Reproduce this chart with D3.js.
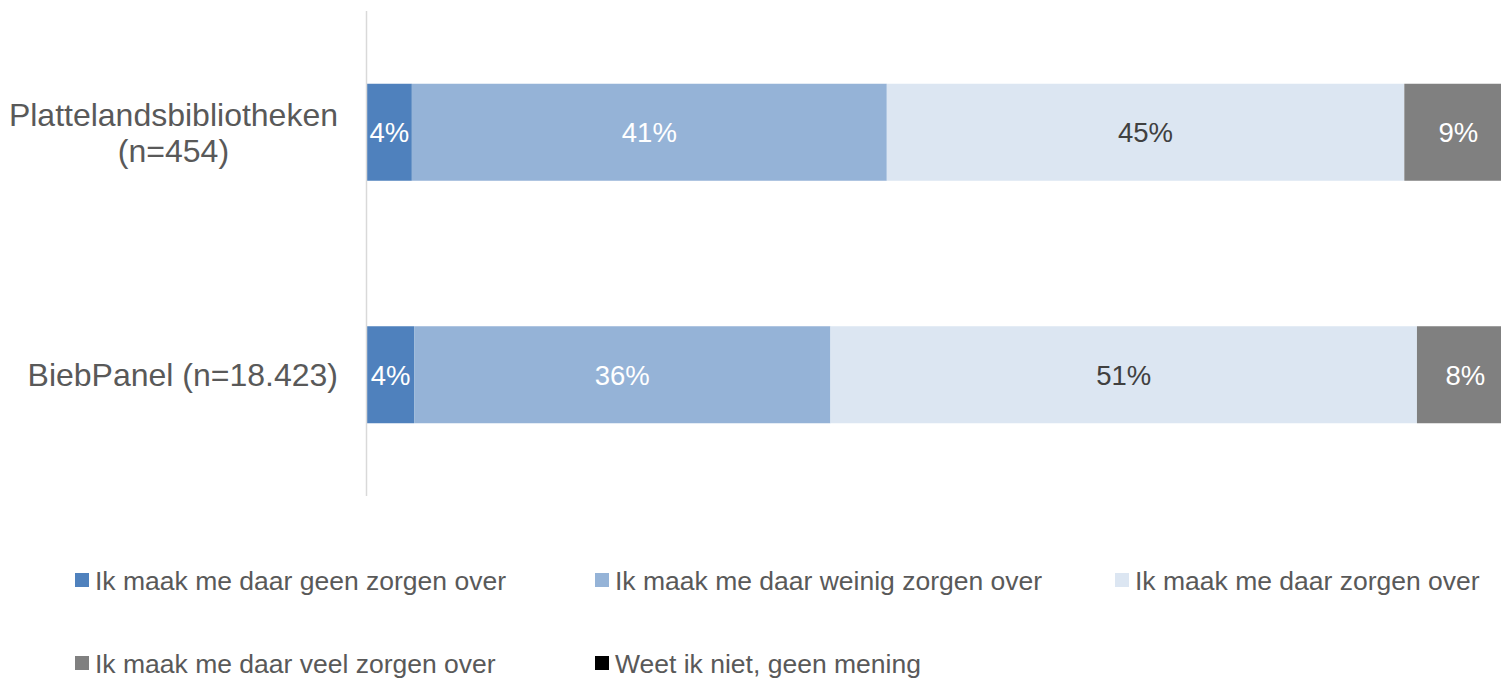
<!DOCTYPE html>
<html>
<head>
<meta charset="utf-8">
<script src="https://cdn.jsdelivr.net/npm/d3@7"></script>
<style>
  body { margin: 0; background: #fff; }
  text { font-family: "Liberation Sans", Arial, sans-serif; }
</style>
</head>
<body>
<script>
// data (percentages)
const categories = ['Plattelandsbibliotheken (n=454)', 'BiebPanel (n=18.423)'];
const seriesNames = [
  'Ik maak me daar geen zorgen over',
  'Ik maak me daar weinig zorgen over',
  'Ik maak me daar zorgen over',
  'Ik maak me daar veel zorgen over',
  'Weet ik niet, geen mening'
];
const geenZorgen = [3.9, 4.1];
const weinigZorgen = [41.3, 36.2];
const welZorgen = [45.0, 51.0];
const veelZorgen = [9.4, 8.4];
const weetNiet = [0.4, 0.3];

const colors = ['#4f81bd', '#95b3d7', '#dce6f2', '#808080', '#000000'];
const labelColors = ['#ffffff', '#ffffff', '#404040', '#ffffff', '#ffffff'];

const width = 1501;
const height = 678;

const rows = categories.map((c, i) => ({
  cat: c,
  values: [geenZorgen[i], weinigZorgen[i], welZorgen[i], veelZorgen[i], weetNiet[i]]
}));

const x = d3.scaleLinear().domain([0, 100]).range([367, 1517]);
const y = d3.scaleBand().domain(categories).range([11, 496]).paddingInner(0.6).paddingOuter(0.3);

const svg = d3.select('body').append('svg')
  .attr('width', width)
  .attr('height', height);

// bars
rows.forEach(r => {
  let acc = 0;
  const segs = r.values.map((v, k) => {
    const s = { k: k, x0: acc, x1: acc + v, v: v };
    acc += v;
    return s;
  });
  const g = svg.append('g');
  g.selectAll('rect')
    .data(segs)
    .enter()
    .append('rect')
    .attr('x', d => x(d.x0))
    .attr('width', d => x(d.x1) - x(d.x0))
    .attr('y', y(r.cat))
    .attr('height', y.bandwidth())
    .attr('fill', d => colors[d.k]);
  g.selectAll('text')
    .data(segs.filter(d => d.v >= 1))
    .enter()
    .append('text')
    .attr('x', d => (x(d.x0) + x(d.x1)) / 2)
    .attr('y', y(r.cat) + y.bandwidth() / 2)
    .attr('dy', '0.36em')
    .attr('text-anchor', 'middle')
    .attr('font-size', 27.5)
    .attr('fill', d => labelColors[d.k])
    .text(d => Math.round(d.v) + '%');
});

// y axis line
svg.append('line')
  .attr('x1', 366.5).attr('x2', 366.5)
  .attr('y1', 11).attr('y2', 496)
  .attr('stroke', '#d9d9d9')
  .attr('stroke-width', 1.5);

// category labels, wrapped when too wide
const labelRight = 338;
const lineH = 36;
categories.forEach(c => {
  const t = svg.append('text')
    .attr('font-size', 32)
    .attr('fill', '#595959')
    .attr('text-anchor', 'middle');
  t.text(c);
  let lines = [c];
  if (t.node().getComputedTextLength() > 330) {
    const cut = c.lastIndexOf(' ');
    lines = [c.slice(0, cut), c.slice(cut + 1)];
  }
  t.text(null);
  const tmp = lines.map(l => t.append('tspan').text(l));
  const maxW = d3.max(tmp, s => s.node().getComputedTextLength());
  const cx = labelRight - maxW / 2;
  const cy = y(c) + y.bandwidth() / 2;
  tmp.forEach((s, i) => {
    s.attr('x', cx)
      .attr('y', cy + (i - (lines.length - 1) / 2) * lineH)
      .attr('dy', '0.36em');
  });
});

// legend
const legend = svg.append('g');
seriesNames.forEach((n, i) => {
  const col = i % 3, row = Math.floor(i / 3);
  const lx = 75 + col * 520;
  const ly = 580 + row * 83;
  legend.append('rect')
    .attr('x', lx).attr('y', ly - 7)
    .attr('width', 14).attr('height', 14)
    .attr('fill', colors[i]);
  legend.append('text')
    .attr('x', lx + 20).attr('y', ly)
    .attr('dy', '0.36em')
    .attr('font-size', 26.5)
    .attr('fill', '#595959')
    .text(n);
});
</script>
</body>
</html>
